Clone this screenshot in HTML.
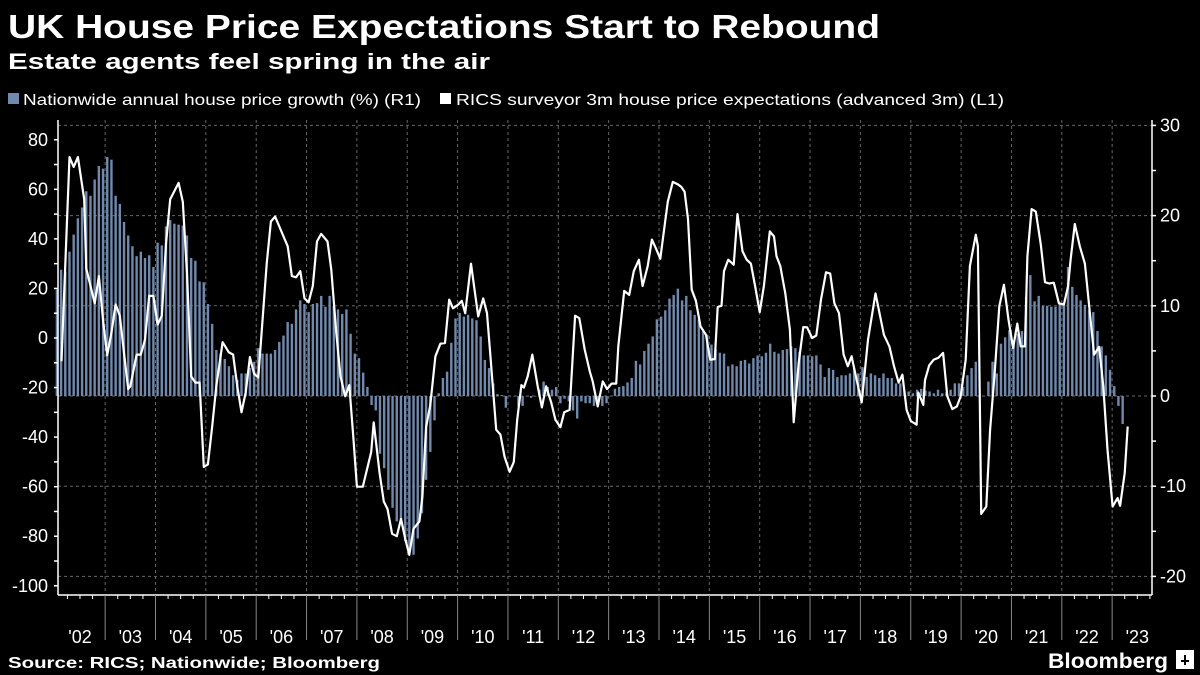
<!DOCTYPE html>
<html><head><meta charset="utf-8"><style>
html,body{margin:0;padding:0;background:#000;}
svg{display:block;font-family:"Liberation Sans",sans-serif;}
</style></head><body>
<svg id="chart" width="1200" height="675" viewBox="0 0 1200 675">
<rect x="0" y="0" width="1200" height="675" fill="#000"/>
<text x="8" y="38" fill="#fff" font-weight="bold" font-size="33" textLength="872" lengthAdjust="spacingAndGlyphs">UK House Price Expectations Start to Rebound</text>
<text x="8" y="69" fill="#fff" font-weight="bold" font-size="22" textLength="482" lengthAdjust="spacingAndGlyphs">Estate agents feel spring in the air</text>
<g>
<rect x="8" y="93" width="11" height="11" fill="#7089ad"/>
<text x="23" y="105" fill="#fff" font-size="16" textLength="398" lengthAdjust="spacingAndGlyphs">Nationwide annual house price growth (%) (R1)</text>
<rect x="440" y="93" width="11" height="11" fill="#fff"/>
<text x="456" y="105" fill="#fff" font-size="16" textLength="548" lengthAdjust="spacingAndGlyphs">RICS surveyor 3m house price expectations (advanced 3m) (L1)</text>
</g>
<g id="grid"></g>
<g id="bars"></g>
<g id="line"></g>
<g id="axes"></g>
<text x="8" y="668" fill="#fff" font-weight="bold" font-size="16" textLength="372" lengthAdjust="spacingAndGlyphs">Source: RICS; Nationwide; Bloomberg</text>
<text x="1048" y="668" fill="#fff" font-weight="bold" font-size="21" textLength="120" lengthAdjust="spacingAndGlyphs">Bloomberg</text>
<g><rect x="1176" y="650" width="18" height="19" fill="#fff"/><rect x="1184" y="655" width="2" height="10" fill="#000"/><rect x="1181" y="660" width="8" height="2" fill="#000"/></g>
</svg>
<script>
const barValues=[11.8,14,13.8,16,17.9,19.7,20.9,22.7,22.2,24,25.5,25.2,
26.5,26.2,22.2,21.3,19.3,17.8,16.6,15.5,16,15.3,15.6,14.3,
17,16.7,18.8,19.5,19.1,19,18.9,17.8,15.3,15,12.7,12.6,
10.2,8,5.1,4.7,4.1,3.3,2.3,1.8,2.5,2.5,3.1,3.8,
5.3,4.7,4.7,4.7,5.1,6,6.7,8.2,8,9.6,10.6,10.2,
9.3,10.2,10.3,11.1,9.9,11.1,10,9.6,9.1,9.6,6.9,4.7,
4.2,2.6,1,-1,-1.6,-6.4,-8,-10.4,-12.4,-13.9,-14.1,-16.1,
-17,-17.6,-15.8,-13,-9.3,-6.2,-2.7,0.3,2,2.7,5.9,8.6,
9.2,8.8,9,8.6,8.4,6.6,4,3.1,1.4,0.2,0.1,-1.3,
0,0,-1.1,-1.1,0,-0.2,0,0.7,1.6,1,0.7,1,
-0.8,-0.3,-0.6,-1.6,-2.5,-0.6,-0.8,-0.8,-1.1,-1,-1.1,-0.8,
0,0.8,1,1.1,1.5,2,3.9,3.5,5,5.8,6.6,8.5,
8.8,9.5,10.8,11.2,11.9,10.6,11.1,9.5,9,8.5,7.2,6.8,
5.7,5.2,4.8,4.7,3.3,3.5,3.3,3.9,4,3.6,4.2,4.5,
4.4,4.8,5.8,4.9,4.7,5.1,5.2,5.5,5.3,4.9,4.5,4.5,
4.4,4.5,3.5,2.1,3.1,2.9,2.1,2.3,2.3,2.5,3.1,2.5,
3.2,2.1,2.5,2.3,2,2.5,2,2,1.4,1.4,0.6,0.5,
0.3,0.7,0.8,0.6,0.5,0.3,0.7,0.3,0.4,0.7,1.4,1.4,
1,2.3,3.1,3.8,0,0,1.6,3.8,2.5,5.8,6.5,7.3,
6.2,6.9,7.2,11,13.4,10.5,11.1,10,10,9.9,9.9,10.2,
10.1,14.3,12.1,11.2,10.6,10.1,9.5,9.3,7.2,5.5,4.5,2.9,
1.1,-1.1,-3.1];
const lineMonths=[1.1,3,4,5,6.5,7,9,10,11,12,13,14,15,16,17,17.5,19,20,21,22,23,24,25,26,27,29,30,31,32,33,34,35,36,37,38,39.5,41,42,43,44,45,46,47,48,50,51,52,55,56,57,58,59,60,61,62,63,64.5,65.4,66.6,67.6,68.7,69.7,70.7,71.5,72.9,74.9,75.5,76.9,77.9,78.8,79.9,81,82,83,84,85,86.4,87.1,88,89,90.2,91.4,92.5,93.5,94.4,95.7,96.5,97.3,98.7,100.4,101.6,102.5,103.4,104.7,105.7,106.7,107.9,108.9,109.7,110.7,111.3,112.2,113.3,114.6,115.6,116.6,117.8,118.8,120,120.9,122.2,123.5,124.5,125.8,127,127.7,128.9,130.1,131.1,132.2,133.3,133.8,135.2,136.4,137.5,138.7,139.6,140.8,141.8,142.8,143.8,144.8,145.6,146.8,148,148.8,149.6,150.4,151.3,152.3,153.4,154.7,155.7,156.8,157.5,158.4,159,160,161.3,162.2,163.4,164.4,165.4,166.4,167.5,168.5,169.9,170.9,171.5,172.4,173.6,174.7,175.6,176.8,177.9,178.8,180,181,182.1,183.3,184.3,185.3,186.4,187.5,188.5,189.4,190.6,191.8,193.3,195.1,197.1,198.4,199.5,200.6,201.5,202.5,203.5,204.9,205.3,206.5,206.9,207.9,209,210.1,211.2,212.2,213.4,214.5,215.4,216.6,217.6,219,219.5,220.3,221.5,222.4,223.5,224.6,225.7,226.8,227.9,228.9,229.7,230.7,231.3,232.3,233.3,234.5,235.5,236.5,237.6,238.8,240,241,241.6,242.6,243.8,245,246.2,247.2,248.4,249.4,250.4,251.6,252.8,253.4,254.5,255.2];
const lineValues=[-9.4,73,69,73,56,28,14,25,7,-7,2,13.5,9,-6,-20.6,-19.5,-6.7,-6.7,-0.7,17,17,5.4,9,38,56,62.6,55,26,-15.5,-18,-18,-52,-51,-36,-19.5,-1.7,-5.8,-6.7,-19.5,-30,-22,-7.7,-14.4,-16,30,47,49,37,25,24.5,27,16,14.4,21,39,42,39,27.5,2,-15.5,-23.5,-19,-41,-60,-60,-46,-34,-54.5,-66,-69,-79,-80,-73,-81,-87.5,-77,-74,-64,-36,-27,-7.4,-2.3,-2,15.5,12,13.5,15,10,30,8.7,16,10,-8.7,-37,-39,-48,-54,-50,-33,-19,-20,-15.5,-6.7,-19.5,-28,-19.5,-26,-33,-36,-30,-29,9,8,-4.7,-13.5,-17.5,-27.6,-17.5,-20.6,-18.4,-18.4,-3.4,19,17.4,27,31.6,21,29,39.7,36,32,45,55,63,62,61,59,48,19.5,15,4.7,1.3,-8.7,-8.5,12.5,13,27,31.6,29.6,50,35,31.6,30,21,10.4,21,43,41,33,29,18,3.4,-34,-10,4.4,4.3,0,1,15.5,26.5,26,14,10,-6.7,-11.4,-7.4,-16.8,-26,-0.7,18,1.3,-3.4,-11.4,-18,-14.8,-29,-33.5,-35,-22,-27,-17,-11,-8.7,-8,-6,-23.5,-28.7,-27.6,-23.5,-8.7,29,41.7,37,-71,-68,-37,-14,12.8,21.5,7.4,-4,5.8,-3.4,-3.4,33,52,51,37.7,22.5,22,22.3,14,13.5,21,31.6,46,37,30,10,-6.7,-3.6,-19.5,-45,-68,-64.6,-67.7,-54.5,-35.7];
const leftTicks=[80,60,40,20,0,-20,-40,-60,-80,-100];
const rightTicks=[30,20,10,0,-10,-20];
const yearLabels=["'02","'03","'04","'05","'06","'07","'08","'09","'10","'11","'12","'13","'14","'15","'16","'17","'18","'19","'20","'21","'22","'23"];

const NS="http://www.w3.org/2000/svg";
const X0=54.8, MW=50.35/12, PL=58, PR=1152, PT=120, PB=595;
function xM(m){return X0+(m+0.5)*MW;}
function xYearStart(i){return X0+i*50.35;}
function yL(v){return 338-v*2.478;}
function yR(v){return 396-v*9.02;}
function mk(tag,attrs,parent){const e=document.createElementNS(NS,tag);for(const k in attrs)e.setAttribute(k,attrs[k]);parent.appendChild(e);return e;}
const grid=document.getElementById('grid'),bars=document.getElementById('bars'),line=document.getElementById('line'),axes=document.getElementById('axes');

rightTicks.forEach(v=>{const g=mk('line',{x1:PL,x2:PR,y1:yR(v),y2:yR(v),stroke:'#666','stroke-width':1,'stroke-dasharray':'3,3'},grid);

});
for(let i=1;i<yearLabels.length;i++){const g=mk('line',{x1:xYearStart(i),x2:xYearStart(i),y1:PT,y2:PB,stroke:'#666','stroke-width':1,'stroke-dasharray':'3,3'},grid);

}

barValues.forEach((v,i)=>{const y0=yR(0),y1=yR(v);const r=mk('rect',{x:xM(i)-1.2,width:2.4,y:Math.min(y0,y1),height:Math.max(0.5,Math.abs(y1-y0)),fill:'#7089ad'},bars);

});

const n=Math.min(lineMonths.length,lineValues.length);let d='';
for(let i=0;i<n;i++){d+=(i?'L':'M')+xM(lineMonths[i]).toFixed(1)+','+yL(lineValues[i]).toFixed(1);}
const p=mk('path',{d:d,fill:'none',stroke:'#fff','stroke-width':2.2,'stroke-linejoin':'round'},line);



let a=mk('line',{x1:PL,x2:PL,y1:PT,y2:PB,stroke:'#fff','stroke-width':1.5},axes);


a=mk('line',{x1:PR,x2:PR,y1:PT,y2:PB,stroke:'#fff','stroke-width':1.5},axes);


a=mk('line',{x1:PL,x2:PR,y1:PB,y2:PB,stroke:'#fff','stroke-width':1.5},axes);



for(let v=80;v>=-100;v-=10){const t=mk('line',{x1:PL-4,x2:PL,y1:yL(v),y2:yL(v),stroke:'#fff','stroke-width':1.5},axes);

}
leftTicks.forEach(v=>{const t=mk('text',{x:48,y:yL(v)+6,fill:'#fff','font-size':18,'text-anchor':'end'},axes);t.textContent=v;

});
for(let v=30;v>=-20;v-=5){const t=mk('line',{x1:PR,x2:PR+4,y1:yR(v),y2:yR(v),stroke:'#fff','stroke-width':1.5},axes);

}
rightTicks.forEach(v=>{const t=mk('text',{x:1160,y:yR(v)+6,fill:'#fff','font-size':18,'text-anchor':'start'},axes);t.textContent=v;

});

yearLabels.forEach((lab,i)=>{
 if(i>0){const t=mk('line',{x1:xYearStart(i),x2:xYearStart(i),y1:PB,y2:640,stroke:'#888','stroke-width':1},axes);
 
 }
 for(let q=1;q<4;q++){const t=mk('line',{x1:xYearStart(i)+q*50.35/4,x2:xYearStart(i)+q*50.35/4,y1:PB,y2:PB+4,stroke:'#fff','stroke-width':1},axes);
 
 }
 const tx=mk('text',{x:xYearStart(i)+25.2,y:643,fill:'#fff','font-size':18,'text-anchor':'middle'},axes);tx.textContent=lab;
 
 
});
</script>
</body></html>
